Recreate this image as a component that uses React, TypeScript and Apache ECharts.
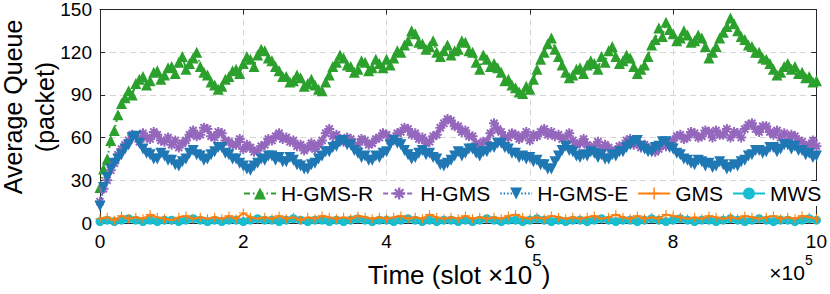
import React, { useEffect, useRef } from "react";
import * as echarts from "echarts";

const FONT = "'Liberation Sans', Arial, Helvetica, sans-serif";

// x steps in units of 10^5 slots
const STEP_FINE = 0.05;
const STEP_COARSE = 0.1;

const SERIES_NAMES = ["H-GMS-R", "H-GMS", "H-GMS-E", "GMS", "MWS"];
const X_TICKS = [0, 2, 4, 6, 8, 10];
const Y_TICKS = [0, 30, 60, 90, 120, 150];

// sampled every 0.05 x 10^5 slots
const H_GMS_R = [
  25, 38, 45, 58, 65, 76, 84, 88, 93, 90, 98, 101, 103, 97, 100, 106, 107, 101, 104, 109,
  110, 105, 113, 117, 108, 112, 116, 120, 110, 106, 104, 99, 97, 94, 96, 101, 103, 107, 108, 105,
  112, 117, 115, 110, 118, 122, 121, 116, 114, 110, 107, 103, 103, 99, 100, 104, 102, 96, 98, 101,
  97, 94, 93, 99, 104, 110, 113, 118, 116, 111, 110, 106, 108, 114, 113, 107, 109, 115, 112, 109,
  115, 111, 116, 121, 120, 125, 128, 135, 133, 127, 126, 122, 124, 128, 120, 117, 121, 125, 118, 121,
  122, 128, 127, 121, 120, 113, 108, 118, 115, 110, 112, 109, 106, 100, 101, 97, 95, 92, 91, 96,
  94, 101, 108, 115, 120, 126, 130, 122, 117, 111, 106, 102, 104, 108, 109, 105, 111, 114, 112, 108,
  117, 113, 121, 124, 117, 112, 114, 118, 116, 110, 105, 108, 111, 117, 125, 129, 137, 131, 141, 136,
  133, 128, 130, 135, 132, 127, 128, 132, 130, 124, 116, 120, 124, 130, 134, 138, 144, 140, 135, 131,
  129, 125, 124, 120, 120, 116, 115, 112, 108, 104, 106, 110, 112, 108, 110, 105, 106, 102, 103, 99,
  100,
];

const H_GMS = [
  15, 24, 30, 37, 42, 48, 52, 55, 58, 62, 61, 57, 63, 60, 59, 64, 62, 58, 57, 60,
  55, 58, 53, 56, 58, 62, 65, 61, 62, 67, 66, 61, 60, 64, 63, 58, 57, 55, 55, 59,
  52, 55, 53, 50, 51, 54, 55, 59, 58, 61, 63, 59, 60, 57, 58, 54, 55, 51, 53, 56,
  52, 55, 58, 63, 66, 61, 62, 58, 57, 60, 59, 54, 55, 59, 58, 55, 56, 59, 60, 63,
  62, 58, 59, 63, 64, 67, 66, 62, 63, 59, 60, 56, 57, 61, 62, 67, 70, 73, 72, 68,
  68, 64, 65, 61, 61, 56, 53, 57, 57, 63, 70, 66, 64, 60, 60, 63, 62, 59, 61, 64,
  58, 62, 61, 64, 66, 62, 64, 61, 62, 59, 60, 63, 58, 55, 56, 59, 55, 52, 54, 57,
  52, 55, 53, 50, 51, 54, 54, 58, 59, 55, 56, 53, 55, 52, 53, 50, 52, 55, 54, 57,
  58, 61, 62, 59, 60, 64, 63, 60, 61, 65, 64, 60, 65, 62, 62, 66, 60, 64, 63, 60,
  66, 69, 70, 66, 64, 68, 68, 64, 62, 65, 60, 63, 58, 62, 61, 58, 57, 54, 55, 58,
  54,
];

const H_GMS_E = [
  12, 25, 32, 38, 42, 45, 48, 52, 55, 60, 61, 56, 52, 49, 48, 45, 45, 49, 47, 44,
  44, 41, 40, 43, 45, 49, 51, 48, 47, 44, 45, 48, 50, 53, 53, 49, 48, 45, 45, 42,
  40, 38, 37, 40, 42, 45, 44, 47, 47, 44, 46, 43, 43, 46, 44, 41, 40, 38, 38, 41,
  42, 45, 47, 50, 50, 53, 54, 57, 58, 55, 55, 51, 49, 46, 47, 44, 44, 47, 46, 49,
  50, 55, 58, 56, 55, 51, 48, 45, 46, 49, 51, 48, 49, 46, 45, 41, 40, 42, 44, 47,
  50, 47, 49, 52, 52, 49, 47, 50, 50, 53, 53, 56, 56, 53, 52, 49, 49, 46, 47, 45,
  46, 43, 44, 41, 41, 38, 38, 43, 47, 51, 54, 51, 50, 47, 46, 48, 47, 50, 49, 46,
  48, 45, 45, 48, 47, 50, 50, 53, 55, 57, 58, 54, 52, 50, 50, 53, 54, 57, 57, 53,
  52, 49, 48, 45, 44, 42, 41, 44, 43, 40, 42, 39, 40, 43, 41, 38, 39, 41, 40, 43,
  44, 47, 48, 51, 51, 49, 50, 53, 53, 50, 52, 55, 55, 52, 54, 51, 51, 48, 49, 46,
  47,
];

// sampled every 0.1 x 10^5 slots
const GMS = [
  3, 4, 2, 5, 3, 4, 3, 6, 4, 3,
  2, 4, 5, 3, 4, 3, 4, 3, 5, 3,
  7, 4, 3, 4, 3, 5, 3, 4, 2, 4,
  3, 5, 4, 3, 4, 3, 5, 4, 3, 4,
  3, 4, 5, 3, 4, 3, 6, 4, 3, 4,
  3, 5, 3, 4, 3, 4, 3, 5, 6, 4,
  3, 4, 3, 5, 4, 3, 4, 3, 4, 5,
  3, 4, 6, 4, 3, 5, 3, 4, 3, 6,
  5, 4, 3, 4, 3, 5, 4, 3, 4, 3,
  5, 4, 3, 4, 5, 3, 4, 3, 5, 4,
  3,
];

const MWS = [
  1, 2, 1, 2, 3, 2, 1, 2, 1, 2,
  2, 1, 2, 3, 2, 1, 2, 1, 2, 2,
  1, 2, 3, 2, 2, 1, 2, 3, 2, 1,
  2, 2, 1, 2, 1, 2, 3, 2, 1, 2,
  2, 1, 2, 3, 2, 1, 2, 1, 2, 2,
  1, 2, 1, 2, 3, 2, 1, 2, 2, 1,
  2, 3, 2, 1, 2, 1, 2, 2, 1, 2,
  3, 2, 1, 2, 2, 1, 2, 3, 2, 1,
  2, 3, 2, 1, 2, 2, 1, 2, 3, 2,
  1, 2, 3, 2, 1, 2, 2, 1, 2, 3,
  2,
];

const COLORS = ["#2ca02c", "#9467bd", "#1f77b4", "#ff7f0e", "#17becf"];

const ASTERISK =
  "path://M-1,-5h2v10h-2z M-5,-1h10v2h-10z M-2.83,-4.25L4.25,2.83L2.83,4.25L-4.25,-2.83z M2.83,-4.25L4.25,-2.83L-2.83,4.25L-4.25,2.83z";
const PLUS = "path://M-0.6,-5h1.2v4.4h4.4v1.2h-4.4v4.4h-1.2v-4.4h-4.4v-1.2h4.4z";

const toPairs = (arr: number[], step: number) => arr.map((v, i) => [+(i * step).toFixed(2), v]);

export default function App() {
  const ref = useRef<HTMLDivElement>(null);
  useEffect(() => {
    const chart = echarts.init(ref.current!, null, { renderer: "svg" });
    const axisColor = "#262626";
    const splitLine = { show: true, lineStyle: { color: "#d6d6d6", type: [6, 4] as any, width: 1 } };
    const datasets = [H_GMS_R, H_GMS, H_GMS_E, GMS, MWS];
    const steps = [STEP_FINE, STEP_FINE, STEP_FINE, STEP_COARSE, STEP_COARSE];
    const symbols = ["triangle", ASTERISK, "triangle", PLUS, "circle"];
    const sizes = [11, 10, 11, 9, 9];
    const rotates = [0, 0, 180, 0, 0];
    const dashes: any[] = [[6, 3, 1.5, 3], [5, 3], [1.5, 2], "solid", "solid"];
    const zs = [2, 3, 4, 6, 5];
    const series = datasets.map((d, k) => ({
      name: SERIES_NAMES[k],
      type: "line",
      data: toPairs(d, steps[k]),
      symbol: symbols[k],
      symbolSize: sizes[k],
      symbolRotate: rotates[k],
      showAllSymbol: true,
      lineStyle: { color: COLORS[k], width: 2, type: dashes[k] },
      itemStyle: { color: COLORS[k] },
      z: zs[k],
      xAxisIndex: 0,
      yAxisIndex: 0,
    }));
    chart.setOption({
      animation: false,
      backgroundColor: "#ffffff",
      textStyle: { fontFamily: FONT },
      grid: { left: 100, right: 13, top: 8, bottom: 71, containLabel: false },
      legend: {
        data: SERIES_NAMES,
        left: 239,
        top: 181,
        itemWidth: 32,
        itemHeight: 15,
        itemGap: 9,
        padding: [2, 4],
        backgroundColor: "#ffffff",
        textStyle: { fontSize: 21, color: "#000", fontFamily: FONT },
      },
      xAxis: [
        {
          type: "value",
          min: 0,
          max: 10,
          interval: 2,
          axisLine: { show: true, onZero: false, lineStyle: { color: axisColor, width: 1 } },
          axisTick: { show: true, inside: true, length: 5, lineStyle: { color: axisColor } },
          axisLabel: { fontSize: 19, color: "#000", margin: 9, fontFamily: FONT,
            formatter: (v: number) => (X_TICKS.includes(v) ? String(v) : "") },
          splitLine,
        },
        {
          type: "value",
          position: "top",
          min: 0,
          max: 10,
          interval: 2,
          axisLine: { show: true, onZero: false, lineStyle: { color: axisColor, width: 1 } },
          axisTick: { show: true, inside: true, length: 5, lineStyle: { color: axisColor } },
          axisLabel: { show: false },
          splitLine: { show: false },
        },
      ],
      yAxis: [
        {
          type: "value",
          min: 0,
          max: 150,
          interval: 30,
          axisLine: { show: true, onZero: false, lineStyle: { color: axisColor, width: 1 } },
          axisTick: { show: true, inside: true, length: 5, lineStyle: { color: axisColor } },
          axisLabel: { fontSize: 19, color: "#000", margin: 8, fontFamily: FONT,
            formatter: (v: number) => (Y_TICKS.includes(v) ? String(v) : "") },
          splitLine,
        },
        {
          type: "value",
          position: "right",
          min: 0,
          max: 150,
          interval: 30,
          axisLine: { show: true, onZero: false, lineStyle: { color: axisColor, width: 1 } },
          axisTick: { show: true, inside: true, length: 5, lineStyle: { color: axisColor } },
          axisLabel: { show: false },
          splitLine: { show: false },
        },
      ],
      graphic: [
        {
          type: "text",
          x: 29,
          y: 107,
          rotation: Math.PI / 2,
          style: {
            text: "Average Queue\n(packet)",
            fontSize: 25,
            lineHeight: 32,
            fontFamily: FONT,
            fill: "#000",
            align: "center",
            verticalAlign: "middle",
          },
        },
        {
          type: "text",
          x: 459,
          y: 270,
          style: {
            text: "{a|Time (slot ×10}{b|5}{a|)}",
            align: "center",
            verticalAlign: "middle",
            fill: "#000",
            rich: {
              a: { fontSize: 26, fontFamily: FONT, lineHeight: 36, verticalAlign: "bottom", fill: "#000" },
              b: { fontSize: 17, fontFamily: FONT, lineHeight: 36, verticalAlign: "top", fill: "#000" },
            },
          },
        },
        {
          type: "text",
          x: 791,
          y: 268,
          style: {
            text: "{a|×10}{b|5}",
            align: "center",
            verticalAlign: "middle",
            fill: "#000",
            rich: {
              a: { fontSize: 21, fontFamily: FONT, lineHeight: 30, verticalAlign: "bottom", fill: "#000" },
              b: { fontSize: 14, fontFamily: FONT, lineHeight: 30, verticalAlign: "top", fill: "#000" },
            },
          },
        },
      ],
      series,
    });
    return () => chart.dispose();
  }, []);
  return (
    <div
      ref={ref}
      style={{ width: 830, height: 294, position: "absolute", left: 0, top: 0 }}
    />
  );
}
